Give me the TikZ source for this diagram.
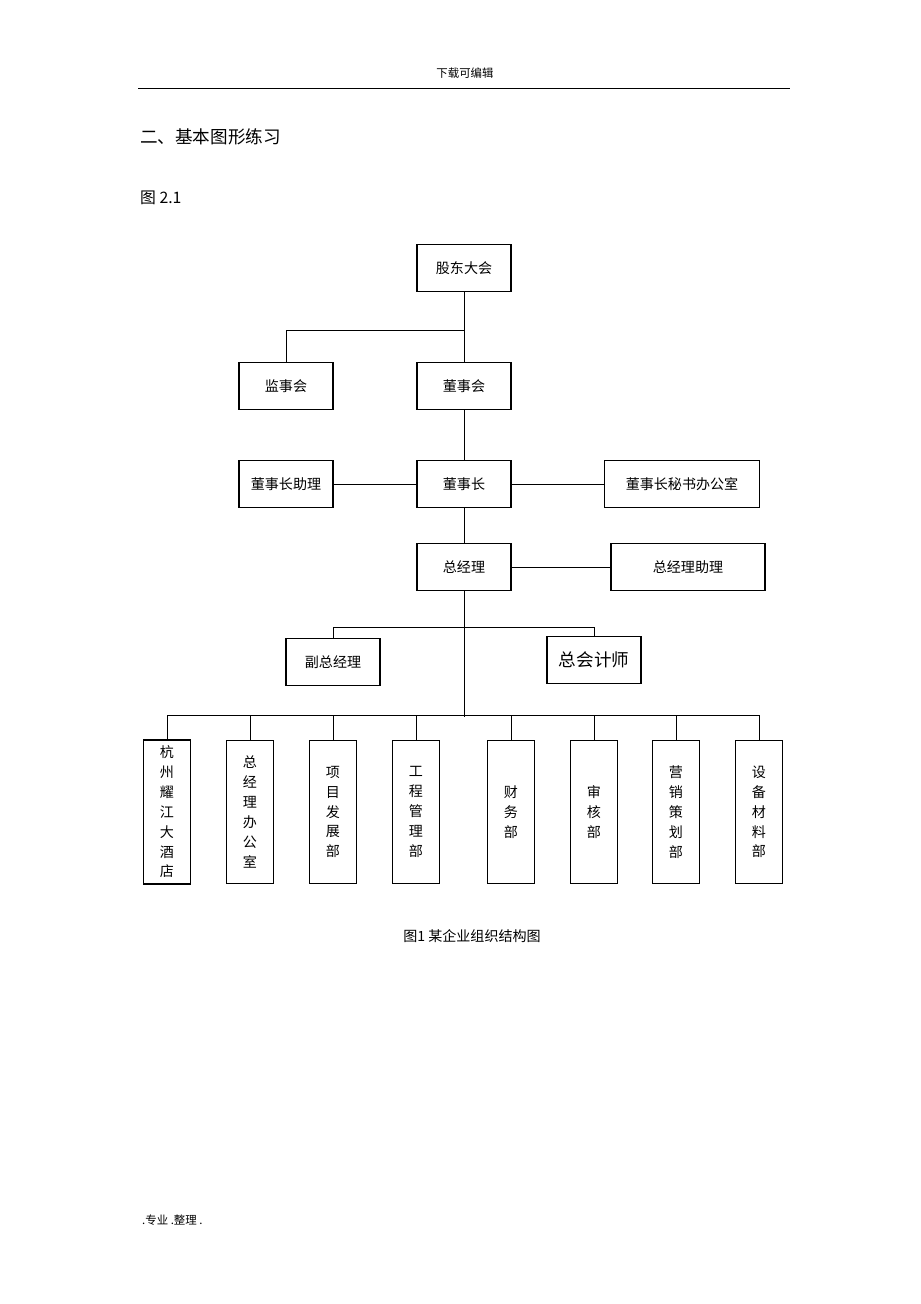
\documentclass[tikz,border=0pt]{standalone}
\usepackage{fontspec}
\setmainfont{Liberation Serif}
\newfontfamily\cjk{Noto Sans CJK SC}
\usetikzlibrary{positioning}
\tikzset{
    box/.style = {draw, thick, minimum width=1.88cm, minimum height=0.94cm, font=\cjk\fontsize{8}{10}\selectfont},
    wide/.style = {box, minimum width=3.08cm},
    col/.style = {draw, thick, minimum width=0.94cm, minimum height=2.86cm, align=center, font=\cjk\fontsize{8}{11.3}\selectfont},
    link/.style = {thin}
}
\begin{document}
\begin{tikzpicture}[x=0.02cm, y=-0.02cm]
    \useasboundingbox (0,0) rectangle (920,1304);
    % page head and titles
    \node[font=\cjk\fontsize{6.5}{8}\selectfont] (head) at (465,73) {下载可编辑};
    \draw[thin] (138,88) -- (790,88);
    \node[anchor=west, font=\cjk\fontsize{10}{12}\selectfont] (title) at (134,137) {二、基本图形练习};
    \node[anchor=west, font=\cjk\fontsize{9}{11}\selectfont] (fig) at (134,198) {图 2.1};

    % upper levels
    \node[box] (gd) at (464,268) {股东大会};
    \node[box] (js) at (286,386) {监事会};
    \node[box] (ds) at (464,386) {董事会};
    \node[box] (zlzl) at (286,484) {董事长助理};
    \node[box] (dsz) at (464,484) {董事长};
    \node[box, minimum width=3.1cm] (ms) at (682,484) {董事长秘书办公室};
    \node[box] (zjl) at (464,567) {总经理};
    \node[wide] (zjlzl) at (688,567) {总经理助理};
    \node[box, text depth=-0.25cm] (fz) at (333,662) {副总经理};
    \node[box, font=\cjk\fontsize{10}{12}\selectfont] (kj) at (594,660) {总会计师};

    \coordinate (b1) at (464,330);
    \coordinate (b2) at (464,627);
    \coordinate (b3) at (464,717);
    \draw[link] (gd) -- (ds);
    \draw[link] (b1) -| (js);
    \draw[link] (ds) -- (dsz);
    \draw[link] (zlzl) -- (dsz);
    \draw[link] (dsz) -- (ms);
    \draw[link] (dsz) -- (zjl);
    \draw[link] (zjl) -- (zjlzl);
    \draw[link] (zjl) -- (b3);
    \draw[link] (b2) -| (fz);
    \draw[link] (b2) -| (kj);

    % departments
    \foreach \name/\x/\txt in {d1/167/杭\\州\\耀\\江\\大\\酒\\店, d2/250/总\\经\\理\\办\\公\\室,
        d3/333/项\\目\\发\\展\\部, d4/416/工\\程\\管\\理\\部, d5/511/财\\务\\部,
        d6/594/审\\核\\部, d7/676/营\\销\\策\\划\\部, d8/759/设\\备\\材\\料\\部} {
        \node[col] (\name) at (\x,812) {\txt};
    }
    \draw[link] (d1.north) -- ++(0,-24) -| (d8.north);
    \foreach \name in {d2,d3,d4,d5,d6,d7} {
        \draw[link] (\name.north) -- ++(0,-24);
    }

    % caption and foot
    \node[font=\cjk\fontsize{8}{10}\selectfont] (cap) at (472,936) {图1 某企业组织结构图};
    \node[anchor=west, font=\cjk\fontsize{6.5}{8}\selectfont] (foot) at (136,1220) {.专业 .整理 .};
\end{tikzpicture}
\end{document}
